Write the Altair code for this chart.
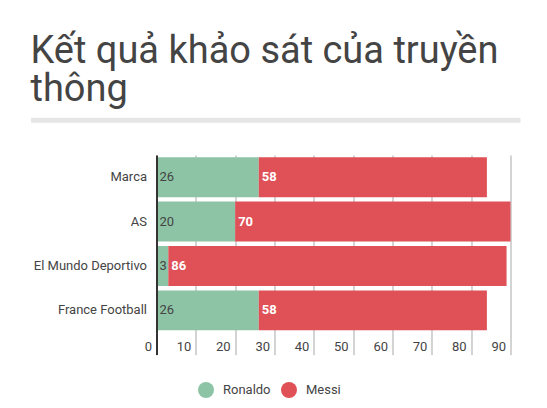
import altair as alt
import pandas as pd

outlets = ["Marca", "AS", "El Mundo Deportivo", "France Football"]
ronaldo = [26, 20, 3, 26]
messi = [58, 70, 86, 58]
series = ["Ronaldo", "Messi"]
colors = ["#8dc4a6", "#df5157"]
x_ticks = [0, 10, 20, 30, 40, 50, 60, 70, 80, 90]
title_lines = ["Kết quả khảo sát của truyền", "thông"]

rows = []
for o, r, m in zip(outlets, ronaldo, messi):
    rows.append({"outlet": o, "player": "Ronaldo", "order": 0, "value": r})
    rows.append({"outlet": o, "player": "Messi", "order": 1, "value": m})
df = pd.DataFrame(rows)

FONT = "Roboto"
TXT = "#444444"

base = alt.Chart(df).transform_stack(
    stack="value", groupby=["outlet"], as_=["x0", "x1"],
    sort=[alt.SortField("order", order="ascending")],
)

y_axis = alt.Axis(
    domain=True, domainColor="#333333", domainWidth=2, ticks=False,
    labelFont=FONT, labelFontSize=13, labelColor=TXT, labelPadding=10,
    zindex=1,
)
y_scale = alt.Scale(paddingInner=0.1, paddingOuter=0.05)

x_axis = alt.Axis(
    values=x_ticks, domain=False, grid=True, gridColor="#a8a8a8",
    gridWidth=1, ticks=True, tickSize=22,
    tickColor=alt.condition("datum.value === 0", alt.value("#333333"), alt.value("#a8a8a8")),
    tickWidth=alt.condition("datum.value === 0", alt.value(2), alt.value(1)),
    labelAlign="right", labelOffset=-5, labelBaseline="middle",
    labelPadding=-8, labelFont=FONT, labelFontSize=13, labelColor=TXT,
    labelFlush=False, labelOverlap=False,
)
x_scale = alt.Scale(domain=[0, 90], nice=False)


def X(field):
    return alt.X(field, scale=x_scale, title=None, axis=x_axis)


def Y():
    return alt.Y("outlet:N", sort=outlets, title=None, scale=y_scale, axis=y_axis)


bars = base.mark_bar().encode(
    x=X("x0:Q"),
    x2="x1:Q",
    y=Y(),
    color=alt.Color(
        "player:N", scale=alt.Scale(domain=series, range=colors),
        legend=alt.Legend(
            title=None, orient="none", direction="horizontal",
            legendX=41.5, legendY=227, symbolType="circle", symbolSize=256,
            symbolStrokeWidth=0, symbolOpacity=1, labelFont=FONT, labelFontSize=13,
            labelColor=TXT, labelOffset=9, columnPadding=10, padding=0,
        ),
    ),
    order=alt.Order("order:Q"),
)

labels_r = base.transform_filter("datum.player == 'Ronaldo'").mark_text(
    align="left", baseline="middle", dx=3, font=FONT, fontSize=13, color=TXT
).encode(x=X("x0:Q"), y=Y(), text="value:Q")

labels_m = base.transform_filter("datum.player == 'Messi'").mark_text(
    align="left", baseline="middle", dx=3, font=FONT, fontSize=13,
    fontWeight="bold", color="white"
).encode(x=X("x0:Q"), y=Y(), text="value:Q")

rule = alt.Chart(pd.DataFrame({"a": [0]})).mark_rule(
    color="#e6e6e6", strokeWidth=5
).encode(x=alt.value(-125.5), x2=alt.value(364), y=alt.value(-34.8))

chart = alt.layer(rule, bars, labels_r, labels_m).properties(
    width=354, height=177.6,
    padding={"left": 148.5, "top": 147, "right": 28, "bottom": 66},
    autosize=alt.AutoSizeParams(type="none"),
    title=alt.TitleParams(
        text=title_lines, anchor="start", frame="group", dx=-126, offset=9,
        font=FONT, fontSize=38, fontWeight="normal", color=TXT, lineHeight=38,
    ),
).configure_view(stroke=None)

chart.save("out.html", embed_options={"renderer": "svg", "actions": False})
